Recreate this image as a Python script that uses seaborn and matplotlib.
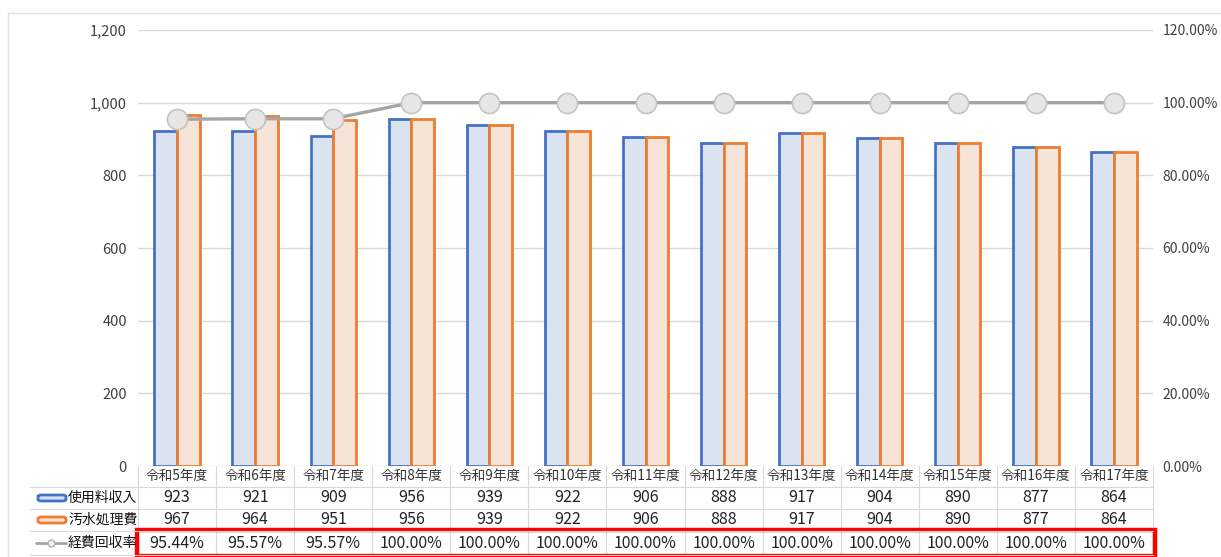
import numpy as np
import pandas as pd
import matplotlib.pyplot as plt
import matplotlib.transforms as mtransforms
from matplotlib.patches import Rectangle, FancyBboxPatch
from matplotlib.lines import Line2D
from matplotlib.ticker import FuncFormatter
import seaborn as sns

years = ["令和5年度", "令和6年度", "令和7年度", "令和8年度", "令和9年度", "令和10年度",
         "令和11年度", "令和12年度", "令和13年度", "令和14年度", "令和15年度",
         "令和16年度", "令和17年度"]
revenue = [923, 921, 909, 956, 939, 922, 906, 888, 917, 904, 890, 877, 864]
cost = [967, 964, 951, 956, 939, 922, 906, 888, 917, 904, 890, 877, 864]
rate = [0.9544, 0.9557, 0.9557, 1.0, 1.0, 1.0, 1.0, 1.0, 1.0, 1.0, 1.0, 1.0, 1.0]
series_names = ["使用料収入", "汚水処理費", "経費回収率"]

W, H = 1221, 557

sns.set_theme(style="white")
plt.rcParams['font.family'] = ['Noto Sans CJK JP', 'DejaVu Sans']


def fy(y):
    # pixel row -> figure fraction
    return 1 - y / H


df = pd.DataFrame({
    "year": years * 2,
    "value": revenue + cost,
    "series": [series_names[0]] * len(years) + [series_names[1]] * len(years),
})

blue_edge, blue_face = "#4472c4", "#d7e1f4"
orange_edge, orange_face = "#ed7d31", "#fbe3d3"
gray_line = "#a5a5a5"

fig = plt.figure(figsize=(W / 100, H / 100), dpi=100)
ax = fig.add_axes([138 / W, fy(466), (1153 - 138) / W, (466 - 30) / H])

sns.barplot(data=df, x="year", y="value", hue="series",
            palette=[blue_face, orange_face], width=0.58,
            linewidth=2, ax=ax, legend=False)
for cont, ec in zip(ax.containers, [blue_edge, orange_edge]):
    for p in cont:
        p.set_edgecolor(ec)

ax.set_xlim(-0.5, len(years) - 0.5)
ax.set_ylim(0, 1200)
ax.set_yticks(range(0, 1201, 200))
ax.yaxis.set_major_formatter(FuncFormatter(lambda v, _: f"{int(v):,}"))
ax.set_xticks([])
ax.set_xlabel("")
ax.set_ylabel("")
ax.grid(axis="y", color="#d9d9d9", linewidth=1)
ax.set_axisbelow(True)
for s in ax.spines.values():
    s.set_visible(False)
ax.tick_params(axis="y", length=0, labelsize=10.5, labelcolor="#404040", pad=8)

ax2 = ax.twinx()
sns.lineplot(x=np.arange(len(years)), y=rate, ax=ax2, color=gray_line,
             linewidth=2.4, marker="o", markersize=14.5,
             markerfacecolor="#e6e6e6", markeredgecolor="#c4c4c4",
             markeredgewidth=1.2)
ax2.set_ylim(0, 1.2)
ax2.set_yticks(np.arange(0, 1.21, 0.2))
ax2.yaxis.set_major_formatter(FuncFormatter(lambda v, _: f"{v * 100:.2f}%"))
ax2.tick_params(axis="y", length=0, labelsize=10, labelcolor="#404040", pad=7)
for s in ax2.spines.values():
    s.set_visible(False)
ax2.set_xlim(-0.5, len(years) - 0.5)

# data table below the plot
tr = mtransforms.blended_transform_factory(ax.transData, fig.transFigure)
row_lines = [466, 487, 509, 531, 555]
row_centers = [476, 498, 520, 543]
grid_c = "#d9d9d9"
for y in row_lines[1:]:
    fig.add_artist(Line2D([30 / W, 1153 / W], [fy(y), fy(y)],
                          color=grid_c, linewidth=0.8))
for i in range(len(years) + 1):
    ax.add_line(Line2D([i - 0.5, i - 0.5], [fy(466), fy(555)], transform=tr,
                       color=grid_c, linewidth=0.8, clip_on=False))

for i, yr in enumerate(years):
    ax.text(i, fy(row_centers[0]), yr, transform=tr, ha="center", va="center",
            fontsize=9.8, color="#333333")
    ax.text(i, fy(row_centers[1]), f"{revenue[i]}", transform=tr, ha="center",
            va="center", fontsize=11.5, color="#222222")
    ax.text(i, fy(row_centers[2]), f"{cost[i]}", transform=tr, ha="center",
            va="center", fontsize=11.5, color="#222222")
    ax.text(i, fy(row_centers[3]), f"{rate[i] * 100:.2f}%", transform=tr,
            ha="center", va="center", fontsize=11.5, color="#222222")

# row labels with legend keys
for k, (ec, fc) in enumerate([(blue_edge, blue_face), (orange_edge, orange_face)]):
    yc = row_centers[k + 1]
    fig.add_artist(FancyBboxPatch((38 / W, fy(yc + 3)), 28 / W, 6 / H,
                                  boxstyle="round,pad=0,rounding_size=0.003",
                                  facecolor=fc, edgecolor=ec, linewidth=2))
    fig.text(68 / W, fy(yc), series_names[k], ha="left", va="center",
             fontsize=10, color="#111111")
yc = row_centers[3]
fig.add_artist(Line2D([36 / W, 66 / W], [fy(yc), fy(yc)], color=gray_line,
                      linewidth=2))
fig.add_artist(Line2D([51 / W], [fy(yc)], marker="o", markersize=5,
                      markerfacecolor="#eeeeee", markeredgecolor="#b0b0b0"))
fig.text(68 / W, fy(yc), series_names[2], ha="left", va="center",
         fontsize=10, color="#111111")

# red highlight around the recovery-rate row
fig.add_artist(Rectangle((137 / W, fy(556)), (1155 - 137) / W, 26 / H,
                         fill=False, edgecolor="#ff0000", linewidth=3.2))

# light chart frame
fig.add_artist(Line2D([8 / W, 1 / 1], [fy(13), fy(13)], color="#e0e0e0", linewidth=1))
fig.add_artist(Line2D([8 / W, 8 / W], [fy(13), 0], color="#e0e0e0", linewidth=1))

fig.savefig("out.png", dpi=100)
